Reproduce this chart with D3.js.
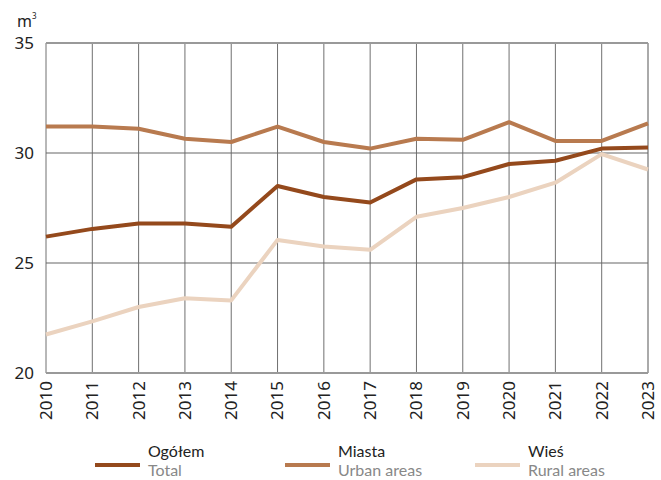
<!DOCTYPE html>
<html><head><meta charset="utf-8">
<script src="https://cdn.jsdelivr.net/npm/d3@7/dist/d3.min.js"></script>
<style>body{margin:0;background:#fff}svg{font-family:"Noto Sans",sans-serif}</style>
</head><body><svg id="c" width="661" height="480"></svg>
<script>
const years = [2010,2011,2012,2013,2014,2015,2016,2017,2018,2019,2020,2021,2022,2023];
const total = [26.2,26.55,26.8,26.8,26.65,28.5,28.0,27.75,28.8,28.9,29.5,29.65,30.2,30.25];
const urban = [31.2,31.2,31.1,30.65,30.5,31.2,30.5,30.2,30.65,30.6,31.4,30.55,30.55,31.35];
const rural = [21.75,22.35,23.0,23.4,23.3,26.05,25.75,25.6,27.1,27.5,28.0,28.65,29.95,29.25];
const yTicks = [20,25,30,35];
const seriesNames = [["Ogółem","Total"],["Miasta","Urban areas"],["Wieś","Rural areas"]];
const colors = ["#94491c","#b87a4f","#ebd3bf"];

const svg = d3.select("#c");
const x = d3.scaleLinear().domain([2010,2023]).range([46,648]);
const y = d3.scaleLinear().domain([20,35]).range([373,43]);

// grid
svg.append("g").selectAll("line").data(years).join("line")
  .attr("x1",d=>x(d)).attr("x2",d=>x(d)).attr("y1",y(35)).attr("y2",y(20))
  .attr("stroke",d=>d===2023?"#aaa":"#707070").attr("stroke-width",d=>d===2023?2:1);
svg.append("g").selectAll("line").data(yTicks).join("line")
  .attr("x1",x(2010)).attr("x2",x(2023)).attr("y1",d=>y(d)).attr("y2",d=>y(d))
  .attr("stroke",d=>(d===35||d===20)?"#999":"#666").attr("stroke-width",d=>(d===35||d===20)?2:1.2);

// y labels
svg.append("g").selectAll("text").data(yTicks).join("text")
  .attr("x",34).attr("y",d=>y(d)).attr("dy","0.35em").attr("text-anchor","end")
  .attr("font-size",17).attr("fill","#222").text(d=>d);
const mt = svg.append("text").attr("x",17).attr("y",27).attr("font-size",16).attr("fill","#222");
mt.append("tspan").text("m");
mt.append("tspan").attr("font-size",8).attr("dy",-8).text("3");

// x labels
svg.append("g").selectAll("text").data(years).join("text")
  .attr("transform",d=>`translate(${x(d)},381) rotate(-90)`)
  .attr("text-anchor","end").attr("dy","0.35em").attr("font-size",17).attr("fill","#222").text(d=>d);

// lines
const line = d3.line().x((d,i)=>x(years[i])).y(d=>y(d));
[urban,rural,total].forEach((s)=>{
  const idx = s===total?0:(s===urban?1:2);
  svg.append("path").datum(s).attr("d",line).attr("fill","none")
    .attr("stroke",colors[idx]).attr("stroke-width",4).attr("stroke-linejoin","round");
});

// legend
const lx = [95,285,475];
seriesNames.forEach((n,i)=>{
  const g = svg.append("g").attr("font-family","Lato, sans-serif");
  g.append("line").attr("x1",lx[i]).attr("x2",lx[i]+45).attr("y1",465).attr("y2",465)
    .attr("stroke",colors[i]).attr("stroke-width",4);
  g.append("text").attr("x",lx[i]+53).attr("y",457).attr("font-size",16).attr("fill","#222").text(n[0]);
  g.append("text").attr("x",lx[i]+53).attr("y",476).attr("font-size",16).attr("fill","#888").text(n[1]);
});
</script></body></html>
